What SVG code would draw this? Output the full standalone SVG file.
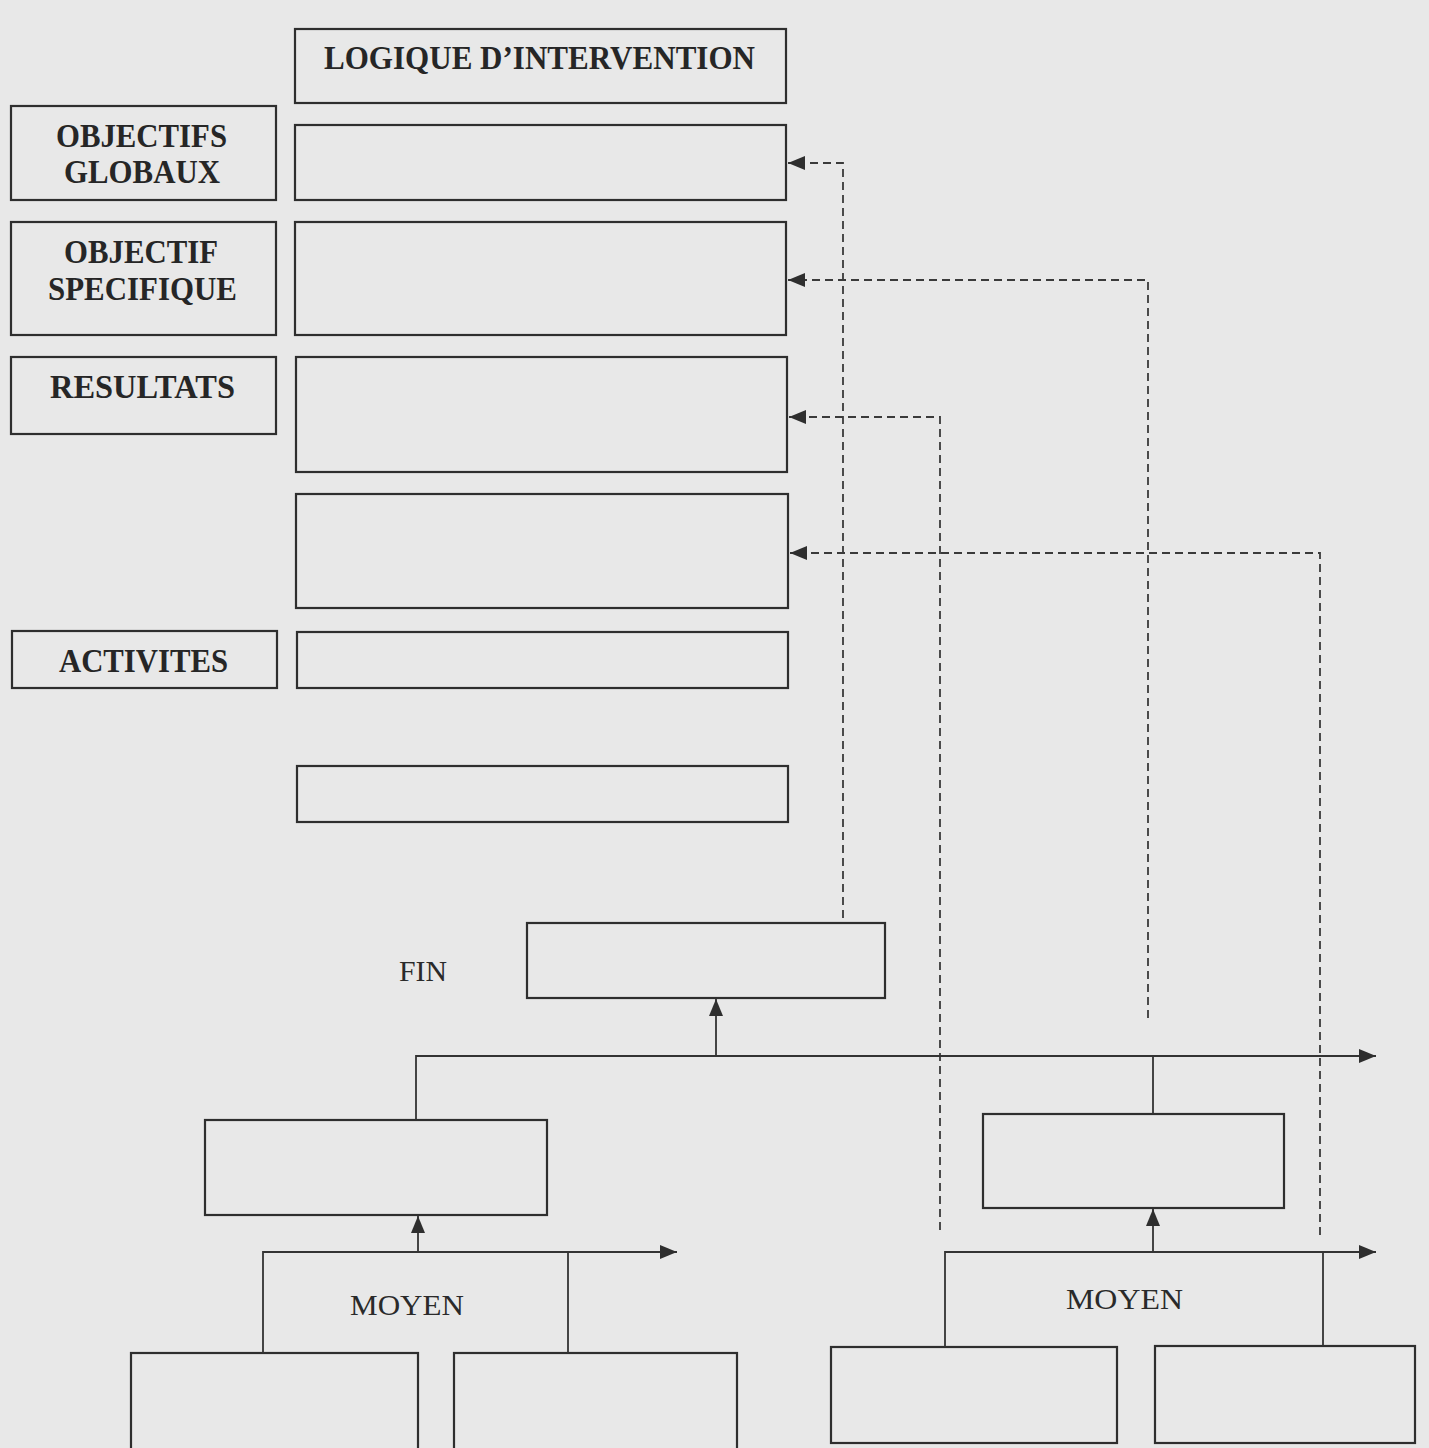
<svg xmlns="http://www.w3.org/2000/svg" width="1429" height="1448" viewBox="0 0 1429 1448">
<style>
.box{fill:none;stroke:#2e2e2e;stroke-width:2.2}
.lbl{font-family:"Liberation Serif","Times New Roman",serif;font-weight:bold;font-size:34px;fill:#262626}
.reg{font-family:"Liberation Serif","Times New Roman",serif;font-size:30px;fill:#2a2a2a}
.sol{fill:none;stroke:#333;stroke-width:1.8}
.dash{fill:none;stroke:#3a3a3a;stroke-width:1.8;stroke-dasharray:8 5}
</style>
<defs>
<marker id="ah" markerUnits="userSpaceOnUse" markerWidth="18" markerHeight="14" refX="17" refY="7" orient="auto">
<path d="M0,0 L17,7 L0,14 z" fill="#2e2e2e"/>
</marker>
</defs>
<rect x="0" y="0" width="1429" height="1448" fill="#e8e8e8"/>

<g id="logique"><rect class="box" x="295" y="29" width="491" height="74"/><text class="lbl" x="324" y="69" textLength="431" lengthAdjust="spacingAndGlyphs">LOGIQUE D’INTERVENTION</text></g>
<g id="obj-globaux"><rect class="box" x="11" y="106" width="265" height="94"/><text class="lbl" x="56" y="147" textLength="171" lengthAdjust="spacingAndGlyphs">OBJECTIFS</text><text class="lbl" x="64" y="183" textLength="156" lengthAdjust="spacingAndGlyphs">GLOBAUX</text></g>
<g id="obj-specifique"><rect class="box" x="11" y="222" width="265" height="113"/><text class="lbl" x="64" y="263" textLength="154" lengthAdjust="spacingAndGlyphs">OBJECTIF</text><text class="lbl" x="48" y="300" textLength="189" lengthAdjust="spacingAndGlyphs">SPECIFIQUE</text></g>
<g id="resultats"><rect class="box" x="11" y="357" width="265" height="77"/><text class="lbl" x="50" y="398" textLength="185" lengthAdjust="spacingAndGlyphs">RESULTATS</text></g>
<g id="activites"><rect class="box" x="12" y="631" width="265" height="57"/><text class="lbl" x="59" y="672" textLength="169" lengthAdjust="spacingAndGlyphs">ACTIVITES</text></g>

<g id="r1"><rect class="box" x="295" y="125" width="491" height="75"/></g>
<g id="r2"><rect class="box" x="295" y="222" width="491" height="113"/></g>
<g id="r3"><rect class="box" x="296" y="357" width="491" height="115"/></g>
<g id="r4"><rect class="box" x="296" y="494" width="492" height="114"/></g>
<g id="r5"><rect class="box" x="297" y="632" width="491" height="56"/></g>
<g id="r6"><rect class="box" x="297" y="766" width="491" height="56"/></g>

<g id="fin"><rect class="box" x="527" y="923" width="358" height="75"/><text class="reg" x="399" y="981" textLength="48" lengthAdjust="spacingAndGlyphs">FIN</text></g>
<g id="moyen-left"><rect class="box" x="205" y="1120" width="342" height="95"/></g>
<g id="moyen-right"><rect class="box" x="983" y="1114" width="301" height="94"/></g>
<g id="b1"><rect class="box" x="131" y="1353" width="287" height="100"/></g>
<g id="b2"><rect class="box" x="454" y="1353" width="283" height="100"/></g>
<g id="b3"><rect class="box" x="831" y="1347" width="286" height="96"/></g>
<g id="b4"><rect class="box" x="1155" y="1346" width="260" height="97"/></g>
<g id="labels"><text class="reg" x="350" y="1315" textLength="114" lengthAdjust="spacingAndGlyphs">MOYEN</text><text class="reg" x="1066" y="1309" textLength="117" lengthAdjust="spacingAndGlyphs">MOYEN</text></g>

<g id="connectors">
<path class="dash" d="M843,918 V163 H788" marker-end="url(#ah)"/>
<path class="dash" d="M1148,1018 V280 H788" marker-end="url(#ah)"/>
<path class="dash" d="M940,1230 V417 H789" marker-end="url(#ah)"/>
<path class="dash" d="M1320,1235 V553 H790" marker-end="url(#ah)"/>
<path class="sol" d="M416,1120 V1056 H1376" marker-end="url(#ah)"/>
<path class="sol" d="M716,1056 V999" marker-end="url(#ah)"/>
<path class="sol" d="M1153,1114 V1056"/>
<path class="sol" d="M418,1252 V1216" marker-end="url(#ah)"/>
<path class="sol" d="M263,1353 V1252 H677" marker-end="url(#ah)"/>
<path class="sol" d="M568,1353 V1252"/>
<path class="sol" d="M945,1347 V1252 H1376" marker-end="url(#ah)"/>
<path class="sol" d="M1323,1346 V1252"/>
<path class="sol" d="M1153,1252 V1209" marker-end="url(#ah)"/>
</g>
</svg>
